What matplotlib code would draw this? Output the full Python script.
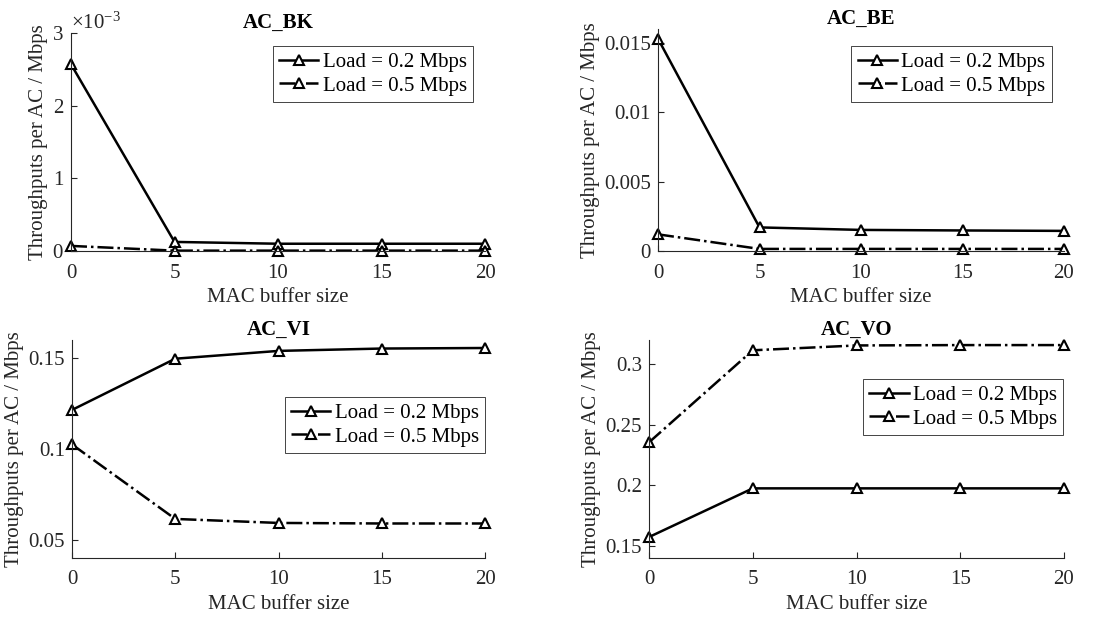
import matplotlib
matplotlib.use("Agg")
import matplotlib.pyplot as plt
from matplotlib.ticker import ScalarFormatter

plt.rcParams['font.family'] = ['Liberation Serif', 'DejaVu Serif']
plt.rcParams['mathtext.fontset'] = 'custom'
plt.rcParams['mathtext.rm'] = 'Liberation Serif'
plt.rcParams['mathtext.it'] = 'Liberation Serif:italic'
plt.rcParams['font.size'] = 15

# buffer sizes on the x axis
buffer_sizes = [0, 5, 10, 15, 20]
series_labels = ['Load = 0.2 Mbps', 'Load = 0.5 Mbps']

# throughput per access category (Mbps)
bk_02 = [2.57e-3, 0.125e-3, 0.10e-3, 0.10e-3, 0.10e-3]
bk_05 = [0.07e-3, 0.005e-3, 0.005e-3, 0.005e-3, 0.005e-3]
be_02 = [0.0153, 0.0017, 0.00152, 0.00148, 0.00145]
be_05 = [0.0012, 0.00015, 0.00015, 0.00015, 0.00015]
vi_02 = [0.1215, 0.1497, 0.1540, 0.1553, 0.1556]
vi_05 = [0.1025, 0.0615, 0.0593, 0.0590, 0.0590]
vo_02 = [0.1573, 0.1975, 0.1975, 0.1975, 0.1975]
vo_05 = [0.2355, 0.3115, 0.3155, 0.3158, 0.3158]

titles = ['AC_BK', 'AC_BE', 'AC_VI', 'AC_VO']
data = [(bk_02, bk_05), (be_02, be_05), (vi_02, vi_05), (vo_02, vo_05)]
ylims = [(0, 3e-3), (0, 0.016), (0.04, 0.16), (0.14, 0.32)]
yticks = [[0, 1e-3, 2e-3, 3e-3], [0, 0.005, 0.01, 0.015],
          [0.05, 0.1, 0.15], [0.15, 0.2, 0.25, 0.3]]
ytick_labels = [None, ['0', '0.005', '0.01', '0.015'],
                ['0.05', '0.1', '0.15'], ['0.15', '0.2', '0.25', '0.3']]

W, H = 1111, 617
# axes boxes in pixels: left, right, top, bottom
boxes = [(71, 485, 33, 251), (658, 1064, 29, 251),
         (72, 485, 340, 558), (649, 1064, 340, 558)]
# upper-right corner of each legend, axes fraction
legend_locs = [(0.971, 0.94), (0.970, 0.923), (1.0, 0.738), (0.998, 0.821)]

fig = plt.figure(figsize=(W / 100, H / 100), dpi=100)

for i in range(4):
    l, r, t, b = boxes[i]
    ax = fig.add_axes([l / W, (H - b) / H, (r - l) / W, (b - t) / H])
    s1, s2 = data[i]
    ax.plot(buffer_sizes, s1, '-', color='black', lw=1.8, marker='^',
            ms=7.5, mfc='white', mec='black', mew=1.5, label=series_labels[0],
            clip_on=False)
    ax.plot(buffer_sizes, s2, '-.', color='black', lw=1.8, marker='^',
            ms=7.5, mfc='white', mec='black', mew=1.5, label=series_labels[1],
            clip_on=False)
    ax.set_xlim(0, 20)
    ax.set_ylim(*ylims[i])
    ax.set_xticks(buffer_sizes)
    ax.set_yticks(yticks[i])
    if ytick_labels[i] is not None:
        ax.set_yticklabels(ytick_labels[i])
    else:
        fmt = ScalarFormatter(useMathText=True)
        fmt.set_powerlimits((-3, -3))
        ax.yaxis.set_major_formatter(fmt)
        ax.yaxis.get_offset_text().set_fontsize(15)
        ax.yaxis.get_offset_text().set_color('#262626')
    ax.spines['top'].set_visible(False)
    ax.spines['right'].set_visible(False)
    for sp in ('left', 'bottom'):
        ax.spines[sp].set_color('#262626')
        ax.spines[sp].set_linewidth(0.8)
    ax.tick_params(direction='in', length=4, width=0.8, colors='#262626',
                   labelcolor='#262626', labelsize=15)
    ax.tick_params(axis='x', pad=9)
    ax.tick_params(axis='y', pad=5)
    ax.set_title(titles[i], fontweight='bold', fontsize=15, pad=2)
    ax.set_xlabel('MAC buffer size', fontsize=15, color='#262626', labelpad=4)
    ax.set_ylabel('Throughputs per AC / Mbps', fontsize=15, color='#262626',
                  labelpad=3)
    leg = ax.legend(loc='upper right', bbox_to_anchor=legend_locs[i],
                    frameon=True, fancybox=False, framealpha=1,
                    edgecolor='#262626', handlelength=1.9, handletextpad=0.2,
                    borderpad=0.3, labelspacing=0.2, fontsize=15,
                    borderaxespad=0)
    leg.get_frame().set_linewidth(0.6)

fig.savefig('out.png', dpi=100)
